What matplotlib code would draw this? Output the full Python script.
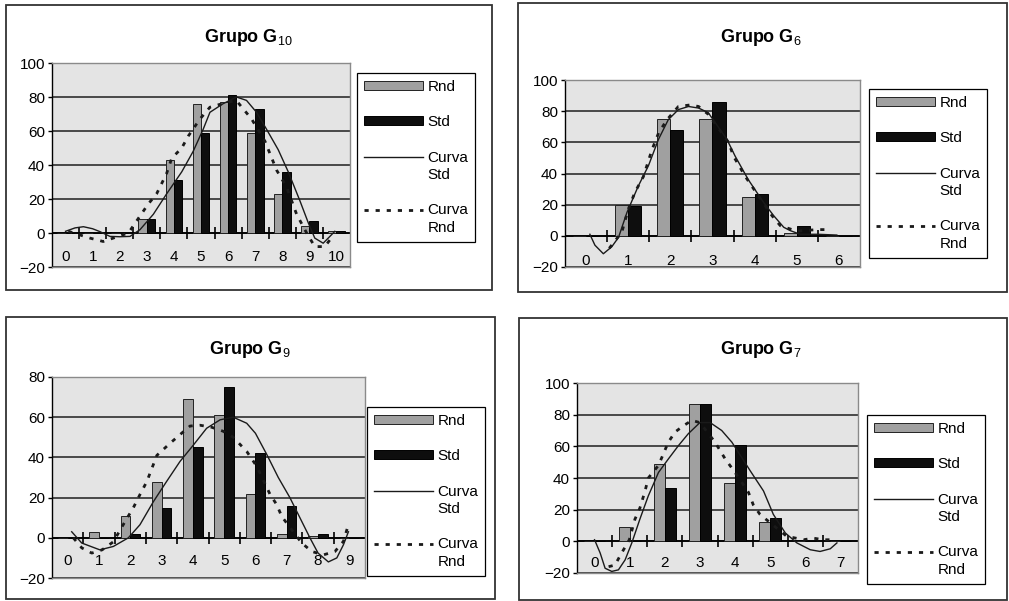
import matplotlib
matplotlib.use("Agg")
import matplotlib.pyplot as plt
import numpy as np
from matplotlib.patches import Patch, Rectangle
from matplotlib.lines import Line2D
from matplotlib.legend_handler import HandlerLine2D
from matplotlib.transforms import Affine2D

plt.rcParams['font.family'] = ['Liberation Sans', 'DejaVu Sans']
plt.rcParams['mathtext.fontset'] = 'custom'
plt.rcParams['mathtext.rm'] = 'Liberation Sans'
plt.rcParams['mathtext.it'] = 'Liberation Sans:italic'
plt.rcParams['mathtext.bf'] = 'Liberation Sans:bold'

W, H = 1009, 601

# ---- datos ----
# Grupo G10
cats_g10 = [0, 1, 2, 3, 4, 5, 6, 7, 8, 9, 10]
rnd_g10 = [0, 0, 0, 8, 43, 76, 77, 59, 23, 4, 1]
std_g10 = [0, 0, 0, 8, 31, 59, 81, 73, 36, 7, 1]
curva_std_x_g10 = [0.0, 0.35, 0.66, 1.0, 1.27, 1.64, 2.0, 2.38, 2.75, 3.24, 3.73, 4.29, 4.71, 5.08,
                   5.33, 5.81, 6.31, 6.68, 7.05, 7.42, 7.85, 8.22, 8.65, 8.96, 9.2, 9.51, 9.82, 9.94]
curva_std_y_g10 = [1, 3, 3.7, 2.5, 0.8, -2, -2.2, -2, 2, 11, 23, 36, 48, 61,
                   71, 76, 80, 78, 71, 61, 49, 36, 19, 6, -3, -6, -1, 1]
curva_rnd_x_g10 = [0.1, 0.9, 1.39, 1.76, 2.32, 2.62, 3.05, 3.36, 3.73, 3.92, 4.29, 4.53, 4.96,
                   5.33, 5.88, 6.3, 6.87, 7.36, 7.79, 8.16, 8.53, 8.9, 9.2, 9.57, 9.76]
curva_rnd_y_g10 = [1, -3, -5, -3, 0, 7, 17, 23, 35, 44, 50, 57, 67,
                   74, 76.5, 78, 67, 54, 37, 27, 11, 0, -8, -8, -4]

# Grupo G6
cats_g6 = [0, 1, 2, 3, 4, 5, 6]
rnd_g6 = [0, 20, 75, 75, 25, 2, 0]
std_g6 = [0, 19, 68, 86, 27, 6, 0]
curva_std_x_g6 = [0.09, 0.21, 0.41, 0.61, 0.77, 0.97, 1.24, 1.48, 1.72, 1.95, 2.19, 2.43, 2.67,
                  2.9, 3.34, 3.54, 3.85, 4.21, 4.45, 4.69, 4.84, 5.08, 5.5, 5.95]
curva_std_y_g6 = [1, -6, -11.5, -7, -1, 15, 32, 45, 62, 74.5, 81, 83, 82,
                  79, 62, 51, 36, 21.5, 13, 5.5, 3.4, 1, 1, 0.5]
curva_rnd_x_g6 = [0.55, 0.85, 1.0, 1.16, 1.36, 1.56, 1.72, 1.92, 2.19, 2.47, 2.67, 2.9, 3.38,
                  3.5, 3.78, 3.93, 4.41, 4.61, 5.0, 5.48, 5.75]
curva_rnd_y_g6 = [-8, 2.5, 17, 28, 38, 55, 66, 74.5, 83, 84, 83, 78, 60,
                  51, 38, 32, 13, 6.5, 3, 4, 4]

# Grupo G9
cats_g9 = [0, 1, 2, 3, 4, 5, 6, 7, 8, 9]
rnd_g9 = [0, 3, 11, 28, 69, 61, 22, 2, 1, 0]
std_g9 = [0, 0, 2, 15, 45, 75, 42, 16, 2, 0]
curva_std_x_g9 = [0.13, 0.45, 1.03, 1.46, 1.94, 2.31, 2.74, 3.16, 3.59, 4.01, 4.44, 4.87, 5.29,
                  5.72, 6.0, 6.36, 6.73, 7.1, 7.42, 7.74, 8.0, 8.33, 8.6, 8.81, 8.97]
curva_std_y_g9 = [3, -2.6, -6, -4.3, 0, 6.5, 18, 28, 38, 46, 54.5, 58.7, 60,
                  57, 52, 41.5, 30, 20, 10, 0, -7.6, -12, -10, -3.5, 3]
curva_rnd_x_g9 = [0.18, 0.45, 0.77, 1.1, 1.46, 1.83, 2.1, 2.31, 2.53, 2.85, 3.27, 3.64, 3.91,
                  4.23, 4.6, 4.97, 5.29, 5.72, 6.04, 6.47, 6.68, 6.84, 7.48, 7.8, 8.17, 8.54,
                  8.81, 8.93]
curva_rnd_y_g9 = [0, -5, -7.6, -6, -2, 8, 15, 21.5, 28, 41, 47, 52, 55.6,
                  56, 55, 53, 50, 43, 35.6, 21.5, 16.5, 10.6, -2.6, -6.8, -8.5, -6.8,
                  -1.8, 4.5]

# Grupo G7
cats_g7 = [0, 1, 2, 3, 4, 5, 6, 7]
rnd_g7 = [0, 9, 49, 87, 37, 12, 0, 0]
std_g7 = [0, 0, 34, 87, 61, 15, 0, 0]
curva_std_x_g7 = [0.0, 0.16, 0.3, 0.49, 0.68, 0.87, 1.06, 1.29, 1.53, 1.82, 2.1, 2.39, 2.67,
                  3.0, 3.29, 3.62, 3.91, 4.43, 4.81, 5.09, 5.43, 5.76, 6.14, 6.42, 6.71, 6.9]
curva_std_y_g7 = [1, -7.4, -17, -19, -18, -11.7, -1, 14, 28.7, 43.5, 52, 60.5, 68,
                  75, 75, 70, 62.6, 44.6, 31.8, 17, 5.3, -1, -5.3, -6.4, -4.7, -1]
curva_rnd_x_g7 = [0.4, 0.58, 0.77, 0.99, 1.15, 1.29, 1.44, 1.53, 1.82, 2.1, 2.29, 2.53, 2.77,
                  3.0, 3.43, 3.72, 4.0, 4.38, 4.52, 4.71, 5.47, 5.95, 6.23, 6.52, 6.8]
curva_rnd_y_g7 = [-16, -15, -7.4, 1, 14, 21, 32, 40, 48, 62.6, 69, 73, 76.4,
                  75, 62.6, 52, 43.5, 31, 23, 17, 3.2, 1, 2, 1, 1]

legend_labels = ['Rnd', 'Std', 'Curva\nStd', 'Curva\nRnd']

GRAY = '#a0a0a0'
BLACK = '#0e0e0e'
BG = '#e4e4e4'
LINE = '#1a1a1a'
DASH = (0, (1.5, 2.5))


def fig_box(l, t, r, b):
    return [l / W, 1 - b / H, (r - l) / W, (b - t) / H]


# linea de la leyenda alineada con la primera linea del texto (como Excel)
class TopLineHandler(HandlerLine2D):
    def __init__(self, shift, **kw):
        super().__init__(**kw)
        self.shift = shift

    def create_artists(self, legend, orig_handle, xdescent, ydescent, width, height, fontsize, trans):
        trans = Affine2D().translate(0, self.shift * fontsize) + trans
        return super().create_artists(legend, orig_handle, xdescent, ydescent,
                                      width, height, fontsize, trans)


fig = plt.figure(figsize=(W / 100, H / 100), dpi=100)


def draw_panel(frame, box, title, title_at, leg_at, cats, rnd, std, sx, sy, rx, ry, ymax, lab_pad):
    # marco del grafico
    l, t, r, b = frame
    fig.add_artist(Rectangle((l / W, 1 - b / H), (r - l) / W, (b - t) / H,
                             transform=fig.transFigure, fill=False, edgecolor='#333333', lw=1.3))
    fig.text(title_at[0] / W, 1 - title_at[1] / H, title, ha='center', va='center',
             fontsize=13, fontweight='bold')

    ax = fig.add_axes(fig_box(*box))
    ax.set_facecolor(BG)
    x = np.arange(len(cats))
    w = 0.31
    ax.bar(x - w / 2, rnd, w, color=GRAY, edgecolor='#222222', lw=0.7, zorder=2)
    ax.bar(x + w / 2, std, w, color=BLACK, edgecolor='#000000', lw=0.7, zorder=2)
    ax.plot(sx, sy, color=LINE, lw=1.0, zorder=3)
    ax.plot(rx, ry, color=LINE, lw=2.0, ls=DASH, zorder=3)

    # eje de categorias en y = 0 con marcas entre categorias
    ax.axhline(0, color='black', lw=1.3, zorder=1.5)
    bounds = x[:-1] + 0.5
    ax.plot(bounds, np.zeros(len(bounds)), ls='none', marker='|', markersize=9,
            mew=1.2, color='black', zorder=1.6)

    ax.set_xlim(-0.5, len(cats) - 0.5)
    ax.set_ylim(-20, ymax)
    ax.set_yticks(np.arange(-20, ymax + 1, 20))
    ax.set_xticks(x)
    ax.set_xticklabels([str(c) for c in cats])
    ax.tick_params(axis='x', length=0, pad=lab_pad, labelsize=11)
    ax.tick_params(axis='y', length=3, width=1, pad=2, labelsize=11, direction='out')
    ax.yaxis.grid(True, color='#1e1e1e', lw=1.1)
    ax.set_axisbelow(True)
    for s in ['top', 'right', 'bottom']:
        ax.spines[s].set_color('#8a8a8a')
        ax.spines[s].set_linewidth(1.0)
    ax.spines['left'].set_color('black')
    ax.spines['left'].set_linewidth(1.0)

    handles = [Patch(facecolor=GRAY, edgecolor='#222222', lw=0.7),
               Patch(facecolor=BLACK, edgecolor='#000000', lw=0.7),
               Line2D([], [], color=LINE, lw=1.0),
               Line2D([], [], color=LINE, lw=2.0, ls=DASH)]
    leg = ax.legend(handles, legend_labels, loc='upper left',
                    bbox_to_anchor=(leg_at[0] / W, 1 - leg_at[1] / H),
                    bbox_transform=fig.transFigure, borderaxespad=0,
                    frameon=True, fancybox=False, framealpha=1, edgecolor='black',
                    fontsize=11, handlelength=3.9, handleheight=0.5, handletextpad=0.25,
                    labelspacing=1.4, borderpad=0.45,
                    handler_map={handles[2]: TopLineHandler(0.65),
                                 handles[3]: TopLineHandler(0.65)})
    leg.get_frame().set_linewidth(0.9)
    for txt in leg.get_texts():
        txt.set_linespacing(1.3)
    return ax


draw_panel((6, 5, 492, 290), (52, 63, 350, 267), r'Grupo G$_{\mathrm{10}}$', (248, 38), (357, 73),
           cats_g10, rnd_g10, std_g10, curva_std_x_g10, curva_std_y_g10,
           curva_rnd_x_g10, curva_rnd_y_g10, 100, -11.9)
draw_panel((518, 3, 1007, 292), (565, 80, 860, 267), r'Grupo G$_{\mathrm{6}}$', (761, 38), (869, 89),
           cats_g6, rnd_g6, std_g6, curva_std_x_g6, curva_std_y_g6,
           curva_rnd_x_g6, curva_rnd_y_g6, 100, -9.7)
draw_panel((6, 317, 495, 599), (52, 377, 365, 578), r'Grupo G$_{\mathrm{9}}$', (250, 349), (367, 407),
           cats_g9, rnd_g9, std_g9, curva_std_x_g9, curva_std_y_g9,
           curva_rnd_x_g9, curva_rnd_y_g9, 80, -17.6)
draw_panel((519, 318, 1007, 600), (577, 383, 858, 573), r'Grupo G$_{\mathrm{7}}$', (761, 350), (867, 415),
           cats_g7, rnd_g7, std_g7, curva_std_x_g7, curva_std_y_g7,
           curva_rnd_x_g7, curva_rnd_y_g7, 100, -11.9)

fig.savefig('out.png', dpi=100, facecolor='white')
